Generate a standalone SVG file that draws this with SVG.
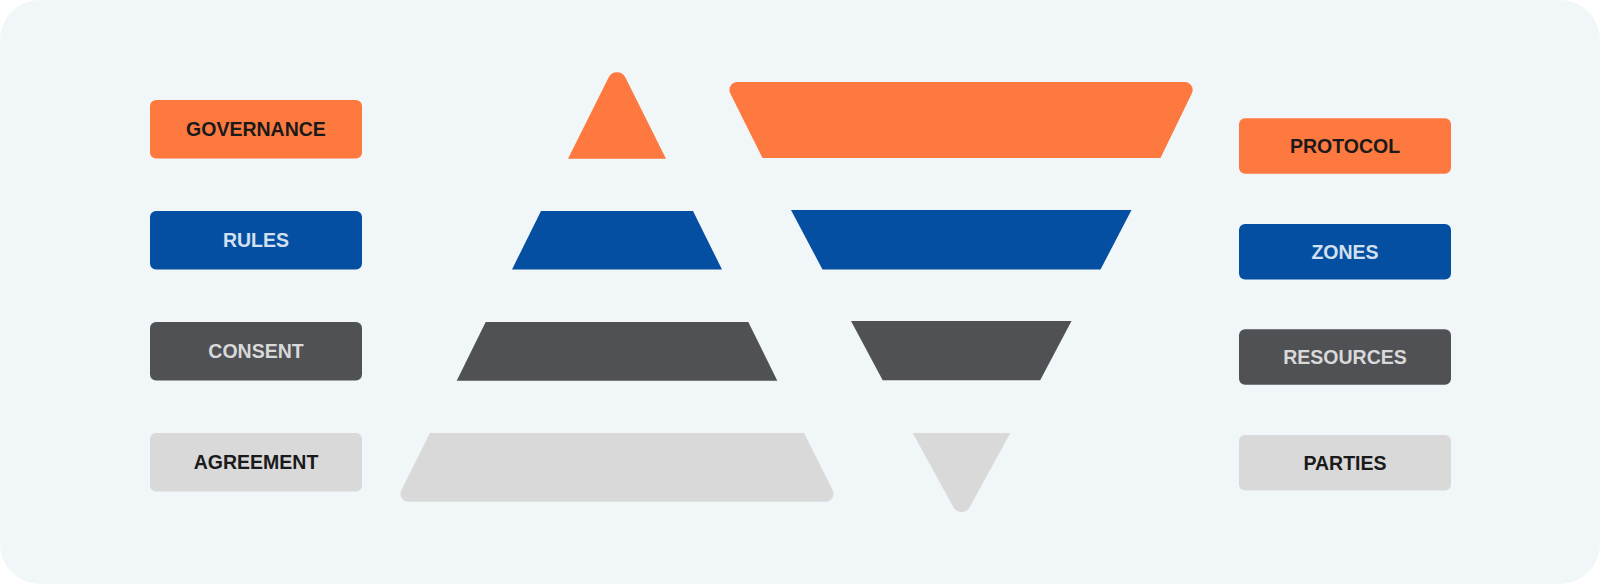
<svg xmlns="http://www.w3.org/2000/svg" width="1600" height="584" viewBox="0 0 1600 584">
  <style>
    .lbl { font-family: "Liberation Sans", Arial, Helvetica, sans-serif; font-size: 19.5px; font-weight: bold; text-anchor: middle; }
    .dk { fill: #1a1a1a; }
    .lt-b { fill: #d3e0ef; }
    .lt-g { fill: #d9d9d9; }
    .or { fill: #fe793f; }
    .bl { fill: #044fa2; }
    .dg { fill: #4f5155; }
    .lg { fill: #d9d9d9; }
  </style>
  <rect x="0" y="0" width="1600" height="584" fill="#ffffff"/>
  <rect x="0" y="0" width="1600" height="584" rx="40" ry="40" fill="#f1f6f9"/>

  <g id="left-labels">
    <g id="governance">
      <rect class="or" x="150" y="100" width="212" height="58.5" rx="6"/>
      <text class="lbl dk" x="256" y="136.2">GOVERNANCE</text>
    </g>
    <g id="rules">
      <rect class="bl" x="150" y="211" width="212" height="58.5" rx="6"/>
      <text class="lbl lt-b" x="256" y="247.2">RULES</text>
    </g>
    <g id="consent">
      <rect class="dg" x="150" y="322" width="212" height="58.5" rx="6"/>
      <text class="lbl lt-g" x="256" y="358.2">CONSENT</text>
    </g>
    <g id="agreement">
      <rect class="lg" x="150" y="433" width="212" height="58.5" rx="6"/>
      <text class="lbl dk" x="256" y="469.2">AGREEMENT</text>
    </g>
  </g>

  <g id="left-pyramid">
    <path id="lp-1" class="or" d="M 568 158.7 L 608.6 77.5 A 9.4 9.4 0 0 1 625.4 77.5 L 666 158.7 Z"/>
    <path id="lp-2" class="bl" d="M 541 211 L 693 211 L 722 269.5 L 512 269.5 Z"/>
    <path id="lp-3" class="dg" d="M 485.7 322 L 748.3 322 L 777.3 380.7 L 456.7 380.7 Z"/>
    <path id="lp-4" class="lg" d="M 430 433 L 804 433 L 832.6 490.1 A 8 8 0 0 1 825.4 501.7 L 408.6 501.7 A 8 8 0 0 1 401.4 490.1 Z"/>
  </g>

  <g id="right-pyramid">
    <path id="rp-1" class="or" d="M 737.4 82 L 1184.6 82 A 8 8 0 0 1 1191.8 93.6 L 1160.5 158 L 762.5 158 L 730.3 93.6 A 8 8 0 0 1 737.4 82 Z"/>
    <path id="rp-2" class="bl" d="M 791 210 L 1131.5 210 L 1100.5 269.5 L 822.5 269.5 Z"/>
    <path id="rp-3" class="dg" d="M 851 321 L 1071.5 321 L 1040.2 380.3 L 882.7 380.3 Z"/>
    <path id="rp-4" class="lg" d="M 912.7 433 L 1010.3 433 L 969.4 507.4 A 9 9 0 0 1 953.6 507.4 Z"/>
  </g>

  <g id="right-labels">
    <g id="protocol">
      <rect class="or" x="1239" y="118.3" width="212" height="55.5" rx="6"/>
      <text class="lbl dk" x="1345" y="153">PROTOCOL</text>
    </g>
    <g id="zones">
      <rect class="bl" x="1239" y="224" width="212" height="55.5" rx="6"/>
      <text class="lbl lt-b" x="1345" y="258.7">ZONES</text>
    </g>
    <g id="resources">
      <rect class="dg" x="1239" y="329.3" width="212" height="55.5" rx="6"/>
      <text class="lbl lt-g" x="1345" y="364">RESOURCES</text>
    </g>
    <g id="parties">
      <rect class="lg" x="1239" y="435" width="212" height="55.5" rx="6"/>
      <text class="lbl dk" x="1345" y="469.7">PARTIES</text>
    </g>
  </g>

  <g id="connectors"></g>
</svg>
